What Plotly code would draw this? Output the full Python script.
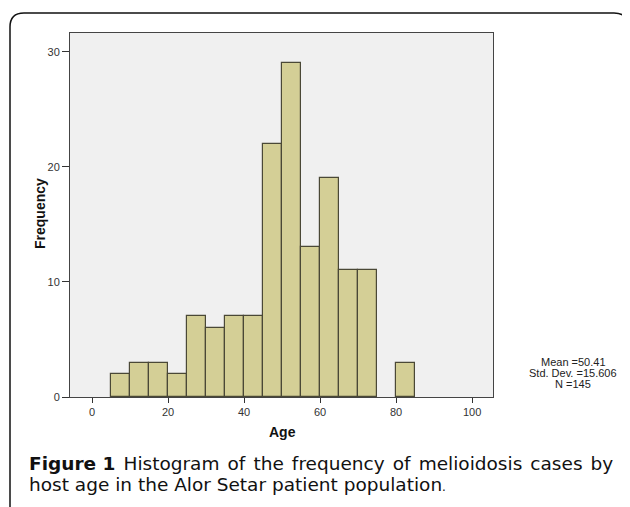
import plotly.graph_objects as go

# Histogram data (bin width 5)
bin_starts = [5, 10, 15, 20, 25, 30, 35, 40, 45, 50, 55, 60, 65, 70, 80]
counts = [2, 3, 3, 2, 7, 6, 7, 7, 22, 29, 13, 19, 11, 11, 3]
bin_width = 5
x_ticks = [0, 20, 40, 60, 80, 100]
y_ticks = [0, 10, 20, 30]
stats_lines = ["Mean =50.41", "Std. Dev. =15.606", "N =145"]
caption_bold = "Figure 1"
caption_line1 = " Histogram of the frequency of melioidosis cases by"
caption_line2 = "host age in the Alor Setar patient population"

OFF = 8  # browser body margin
W, H = 630 - OFF, 507 - OFF
# plot area in page pixels
L, R, T, B = 70, 493, 33, 397
pw, ph = R - L, B - T

def px(x):
    return (x - L) / pw

def py(y):
    return (B - y) / ph

centers = [s + bin_width / 2 for s in bin_starts]

fig = go.Figure()
fig.add_trace(go.Bar(
    x=centers, y=counts, width=bin_width,
    marker=dict(color="#d4cf96", line=dict(color="#4a4836", width=1.2)),
    hoverinfo="x+y", showlegend=False,
))

arial = "Liberation Sans, Arial, sans-serif"
tickfont = dict(family=arial, size=11, color="#333333")
fig.update_xaxes(
    range=[-5.8, 105.5], tickvals=x_ticks, ticks="outside", ticklen=5,
    tickcolor="#333333", showline=True, linecolor="#444444", linewidth=1,
    mirror=True, showgrid=False, zeroline=False, tickfont=tickfont,
)
fig.update_yaxes(
    range=[0, 31.65], tickvals=y_ticks, ticks="outside", ticklen=7,
    tickcolor="#333333", showline=True, linecolor="#444444", linewidth=1,
    mirror=True, showgrid=False, zeroline=False, tickfont=tickfont,
)

def note(x, y, text, font, xanchor="center", yanchor="middle", **kw):
    fig.add_annotation(
        x=px(x), y=py(y), xref="paper", yref="paper", showarrow=False,
        xanchor=xanchor, yanchor=yanchor, text=text, font=font, **kw,
    )

# axis titles
note(282, 432, "<b>Age</b>", dict(family=arial, size=14, color="#111111"))
note(40, 213, "<b>Frequency</b>", dict(family=arial, size=14, color="#111111"),
     textangle=-90)

# Rounded frame (extends past bottom of the image)
x0, x1 = px(10), px(628)
y0, y1 = py(13), py(530)
rx, ry = 14 / pw, 14 / ph
path = (f"M {x0},{y1} L {x0},{y0 - ry} Q {x0},{y0} {x0 + rx},{y0} "
        f"L {x1 - rx},{y0} Q {x1},{y0} {x1},{y0 - ry} L {x1},{y1}")
fig.add_shape(type="path", path=path, xref="paper", yref="paper",
              line=dict(color="#111111", width=1.5))

# Stats text (one line each, tight spacing)
for i, line in enumerate(stats_lines):
    note(573, 362 + 11 * i, line, dict(family=arial, size=11, color="#222222"))

capfont = dict(family="DejaVu Sans, sans-serif", size=18.5, color="#111111")
note(27, 463,
     f"<b>{caption_bold}</b><span style='word-spacing:2.2px'>{caption_line1}</span>",
     capfont, xanchor="left", align="left")
note(27, 484, f"{caption_line2}<span style='font-size:12px'>.</span>",
     capfont, xanchor="left", align="left")

fig.update_layout(
    width=W, height=H,
    margin=dict(l=L - OFF, r=630 - R, t=T - OFF, b=507 - B, pad=0),
    paper_bgcolor="white", plot_bgcolor="#f0f0f0",
    bargap=0,
)

fig.write_html("out.html")
